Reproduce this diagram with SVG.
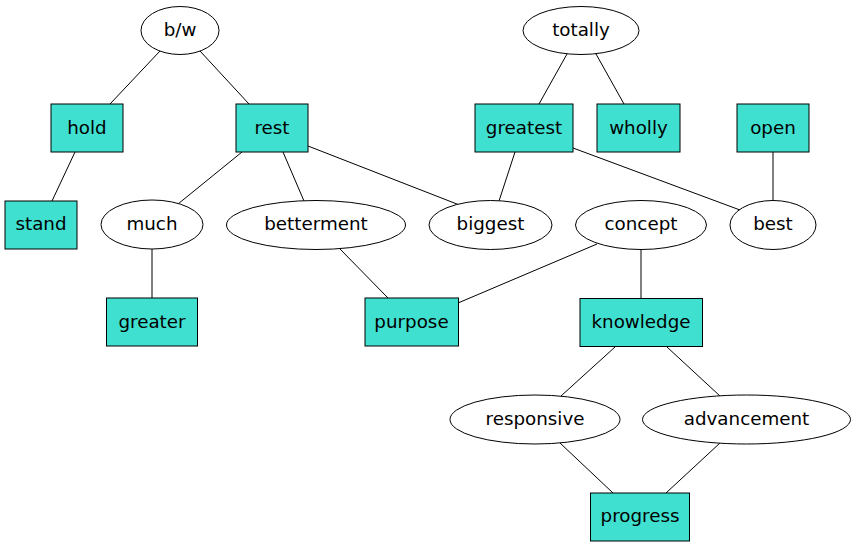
<svg xmlns="http://www.w3.org/2000/svg" width="856" height="547" viewBox="0 0 856 547">
<style>
  .n ellipse { fill: #ffffff; stroke: #000000; stroke-width: 1; }
  .n rect { fill: #40e0d0; stroke: #000000; stroke-width: 1; }
  .n text { font-family: "DejaVu Sans", "Liberation Sans", sans-serif; font-size: 18.3px; text-anchor: middle; fill: #000000; }
  #edges line { stroke: #000000; stroke-width: 1; fill: none; }
</style>
<rect x="0" y="0" width="856" height="547" fill="#ffffff"/>
<g id="edges">
  <line x1="160" y1="51" x2="110" y2="104"/>
  <line x1="200" y1="51" x2="249" y2="104"/>
  <line x1="75" y1="152" x2="52" y2="201"/>
  <line x1="242" y1="152" x2="178" y2="204"/>
  <line x1="283" y1="152" x2="304" y2="201"/>
  <line x1="308" y1="146" x2="462" y2="206"/>
  <line x1="567" y1="54" x2="539" y2="104"/>
  <line x1="596" y1="54" x2="624" y2="104"/>
  <line x1="515" y1="152" x2="499" y2="201"/>
  <line x1="573" y1="148" x2="740" y2="210"/>
  <line x1="773" y1="152" x2="773" y2="200"/>
  <line x1="152" y1="249" x2="152" y2="298"/>
  <line x1="340" y1="249" x2="388" y2="298"/>
  <line x1="597" y1="244" x2="458" y2="303"/>
  <line x1="641" y1="249" x2="641" y2="298"/>
  <line x1="615" y1="347" x2="561" y2="396"/>
  <line x1="667" y1="347" x2="720" y2="396"/>
  <line x1="560" y1="443" x2="613" y2="493"/>
  <line x1="720" y1="443" x2="666" y2="493"/>
</g>
<g id="bw" class="n"><ellipse cx="180" cy="30.5" rx="39" ry="24"/><text x="180" y="36">b/w</text></g>
<g id="totally" class="n"><ellipse cx="581" cy="30.5" rx="58" ry="24"/><text x="581" y="36">totally</text></g>
<g id="hold" class="n"><rect x="51" y="104" width="72" height="48"/><text x="87" y="133.5">hold</text></g>
<g id="rest" class="n"><rect x="236" y="104" width="72" height="48"/><text x="272" y="133.5">rest</text></g>
<g id="greatest" class="n"><rect x="475" y="104" width="98" height="48"/><text x="524" y="133.5">greatest</text></g>
<g id="wholly" class="n"><rect x="597" y="104" width="83" height="48"/><text x="638.5" y="133.5">wholly</text></g>
<g id="open" class="n"><rect x="737" y="104" width="72" height="48"/><text x="773" y="133.5">open</text></g>
<g id="stand" class="n"><rect x="5" y="201" width="72" height="48"/><text x="41" y="230">stand</text></g>
<g id="much" class="n"><ellipse cx="152" cy="224.5" rx="51" ry="24.5"/><text x="152" y="230">much</text></g>
<g id="betterment" class="n"><ellipse cx="316" cy="225" rx="89.5" ry="24.5"/><text x="316" y="230">betterment</text></g>
<g id="biggest" class="n"><ellipse cx="490.5" cy="225" rx="61.5" ry="24.5"/><text x="490.5" y="230">biggest</text></g>
<g id="concept" class="n"><ellipse cx="641" cy="225" rx="65.5" ry="24.5"/><text x="641" y="230">concept</text></g>
<g id="best" class="n"><ellipse cx="773" cy="225" rx="43" ry="24.5"/><text x="773" y="230">best</text></g>
<g id="greater" class="n"><rect x="106.5" y="298" width="91" height="48"/><text x="152" y="327.5">greater</text></g>
<g id="purpose" class="n"><rect x="365" y="298" width="93.5" height="48"/><text x="411.5" y="327.5">purpose</text></g>
<g id="knowledge" class="n"><rect x="580" y="298.5" width="122.5" height="48"/><text x="641" y="327.5">knowledge</text></g>
<g id="responsive" class="n"><ellipse cx="535" cy="419.5" rx="85" ry="24.5"/><text x="535" y="424.5">responsive</text></g>
<g id="advancement" class="n"><ellipse cx="746.5" cy="419.5" rx="104" ry="24.5"/><text x="746.5" y="424.5">advancement</text></g>
<g id="progress" class="n"><rect x="590.5" y="493" width="99" height="48"/><text x="640" y="522">progress</text></g>
</svg>
